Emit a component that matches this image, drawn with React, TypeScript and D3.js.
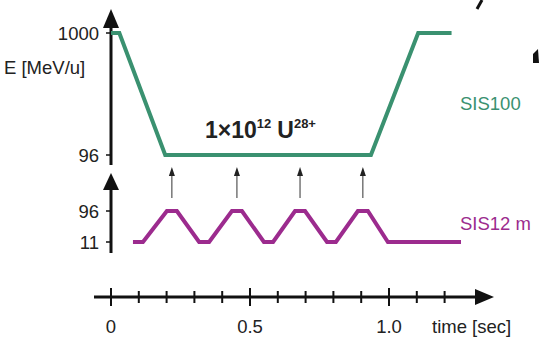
import React from "react";
import * as d3 from "d3";

// SIS100 energy cycle (time in s, energy in MeV/u)
const sis100Time = [0, 0.03, 0.195, 0.935, 1.105, 1.225];
const sis100Energy = [1000, 1000, 96, 96, 1000, 1000];

// SIS12 booster cycles
const sis12Time = [
  0.079, 0.115, 0.201, 0.237, 0.317, 0.353, 0.435, 0.471, 0.55, 0.583,
  0.662, 0.698, 0.777, 0.809, 0.888, 0.924, 0.996, 1.259,
];
const sis12Energy = [11, 11, 96, 96, 11, 11, 96, 96, 11, 11, 96, 96, 11, 11, 96, 96, 11, 11];

// transfer arrows (time of extraction)
const transferTimes = [0.219, 0.453, 0.68, 0.906];

const upperTicks = [1000, 96];
const lowerTicks = [96, 11];
const timeTicks = d3.range(0, 13).map((i) => i / 10);
const timeLabels = [
  { t: 0, label: "0" },
  { t: 0.5, label: "0.5" },
  { t: 1.0, label: "1.0" },
];

const W = 539;
const H = 340;
const GREEN = "#3a9170";
const PURPLE = "#9c2b8e";
const FONT = "'Liberation Sans', Arial, sans-serif";
const FS = 18.5;

export default function App() {
  const x = d3.scaleLinear().domain([0, 1]).range([111, 389]);
  const yTop = d3.scaleLinear().domain([96, 1000]).range([155, 33]);
  const yBot = d3.scaleLinear().domain([11, 96]).range([242, 211]);

  const greenLine = d3
    .line<number>()
    .x((d) => x(sis100Time[d]))
    .y((d) => yTop(sis100Energy[d]));
  const purpleLine = d3
    .line<number>()
    .x((d) => x(sis12Time[d]))
    .y((d) => yBot(sis12Energy[d]));

  const axisX = x(0);
  const timeY = 297;

  return (
    <div style={{ position: "absolute", left: 0, top: 0 }}>
      <svg width={W} height={H} style={{ display: "block", background: "#fff" }} fontFamily={FONT}>
        {/* upper energy axis */}
        <line x1={axisX} x2={axisX} y1={24} y2={165} stroke="#111" strokeWidth={3} />
        <path d={`M${axisX},9 L${axisX - 8},28 L${axisX + 8},28 Z`} fill="#111" />
        {upperTicks.map((v) => (
          <g key={"u" + v}>
            <line x1={axisX - 5} x2={axisX} y1={yTop(v)} y2={yTop(v)} stroke="#111" strokeWidth={1.5} />
            <text x={axisX - 12} y={yTop(v)} dy="0.36em" textAnchor="end" fontSize={FS} fill="#222">
              {v}
            </text>
          </g>
        ))}
        <text x={4} y={67} dy="0.36em" fontSize={FS} fill="#222">
          E [MeV/u]
        </text>

        {/* lower energy axis */}
        <line x1={axisX} x2={axisX} y1={185} y2={253} stroke="#111" strokeWidth={3} />
        <path d={`M${axisX},173 L${axisX - 8},190 L${axisX + 8},190 Z`} fill="#111" />
        {lowerTicks.map((v) => (
          <g key={"l" + v}>
            <line x1={axisX - 5} x2={axisX} y1={yBot(v)} y2={yBot(v)} stroke="#111" strokeWidth={1.5} />
            <text x={axisX - 12} y={yBot(v)} dy="0.36em" textAnchor="end" fontSize={FS} fill="#222">
              {v}
            </text>
          </g>
        ))}

        {/* curves */}
        <path d={greenLine(d3.range(sis100Time.length)) ?? ""} fill="none" stroke={GREEN} strokeWidth={4} />
        <path d={purpleLine(d3.range(sis12Time.length)) ?? ""} fill="none" stroke={PURPLE} strokeWidth={4} />

        {/* transfer arrows */}
        {transferTimes.map((t) => (
          <g key={"a" + t}>
            <line x1={x(t)} x2={x(t)} y1={174} y2={198} stroke="#333" strokeWidth={1} />
            <path d={`M${x(t)},167 L${x(t) - 3},176 L${x(t) + 3},176 Z`} fill="#222" />
          </g>
        ))}

        {/* title */}
        <text x={205} y={138} fontSize={23} fontWeight="bold" fill="#222">
          1×10
          <tspan fontSize={13} dy={-10}>
            12
          </tspan>
          <tspan dy={10} dx={6}>
            U
          </tspan>
          <tspan fontSize={13} dy={-10}>
            28+
          </tspan>
        </text>

        {/* labels */}
        <text x={460} y={103} dy="0.36em" fontSize={FS} fill={GREEN}>
          SIS100
        </text>
        <text x={460} y={223} dy="0.36em" fontSize={FS} fill={PURPLE}>
          SIS12 m
        </text>

        {/* time axis */}
        <line x1={94} x2={480} y1={timeY} y2={timeY} stroke="#111" strokeWidth={3} />
        <path d={`M494,${timeY} L475,${timeY - 8} L475,${timeY + 8} Z`} fill="#111" />
        {timeTicks.map((t) => {
          const major = Math.abs(t * 2 - Math.round(t * 2)) < 1e-6;
          return (
            <line
              key={"t" + t}
              x1={x(t)}
              x2={x(t)}
              y1={major ? timeY - 9 : timeY - 6}
              y2={major ? timeY + 9 : timeY + 6}
              stroke="#111"
              strokeWidth={2}
            />
          );
        })}
        {timeLabels.map((d) => (
          <text key={d.label} x={x(d.t)} y={326} dy="0.36em" textAnchor="middle" fontSize={FS} fill="#222">
            {d.label}
          </text>
        ))}
        <text x={432} y={326} dy="0.36em" fontSize={FS} fill="#222">
          time [sec]
        </text>

        {/* stray marks from cropped neighbour figure */}
        <line x1={482} y1={0} x2={477} y2={9} stroke="#111" strokeWidth={3} />
        <path d="M533,54 L538,49 L539,63 L533,63 Z" fill="#111" />
      </svg>
    </div>
  );
}
